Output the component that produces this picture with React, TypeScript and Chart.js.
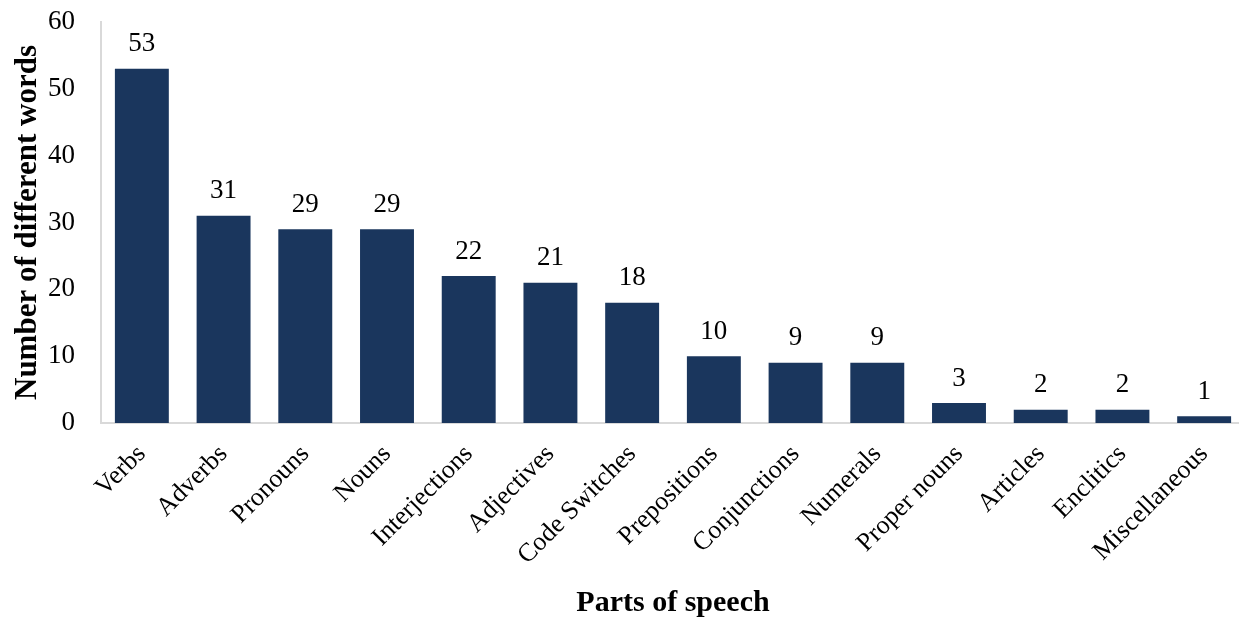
import React, { useEffect, useRef } from "react";
import { Chart, registerables } from "chart.js";
Chart.register(...registerables);

const categories = ["Verbs", "Adverbs", "Pronouns", "Nouns", "Interjections", "Adjectives", "Code Switches", "Prepositions", "Conjunctions", "Numerals", "Proper nouns", "Articles", "Enclitics", "Miscellaneous"];
const values = [53, 31, 29, 29, 22, 21, 18, 10, 9, 9, 3, 2, 2, 1];
const yTicks = [0, 10, 20, 30, 40, 50, 60];

const FONT = "'Liberation Serif', 'Times New Roman', serif";

const labelPlugin = {
  id: "barLabels",
  afterDatasetsDraw(chart: any) {
    const ctx = chart.ctx;
    const meta = chart.getDatasetMeta(0);
    ctx.save();
    ctx.font = `27px ${FONT}`;
    ctx.fillStyle = "#000";
    ctx.textAlign = "center";
    ctx.textBaseline = "bottom";
    meta.data.forEach((bar: any, i: number) => {
      ctx.fillText(String(values[i]), bar.x, bar.y - 11);
    });
    ctx.restore();
  },
};

export default function App() {
  const ref = useRef<HTMLCanvasElement>(null);
  useEffect(() => {
    const chart = new Chart(ref.current!, {
      type: "bar",
      data: {
        labels: categories,
        datasets: [{ data: values, backgroundColor: "#1a365d", borderWidth: 0, barPercentage: 0.66, categoryPercentage: 1 }],
      },
      plugins: [labelPlugin],
      options: {
        animation: false,
        responsive: false,
        layout: { padding: { top: 22, right: 5, left: 0, bottom: 0 } },
        plugins: { legend: { display: false }, tooltip: { enabled: false } },
        scales: {
          x: {
            grid: { display: false, drawTicks: false },
            border: { color: "#d9d9d9", width: 2 },
            ticks: { color: "#000", font: { family: FONT, size: 26 }, maxRotation: 45, minRotation: 45, padding: 16, autoSkip: false },
            title: { display: true, text: "Parts of speech", color: "#000", font: { family: FONT, size: 30, weight: "bold", lineHeight: 1 }, padding: { top: 0, bottom: 0 } },
            afterFit: (s: any) => { s.height = 195; s.paddingLeft = 0; s.paddingRight = 0; },
          },
          y: {
            min: 0,
            max: 60,
            afterBuildTicks: (s: any) => { s.ticks = yTicks.map((v) => ({ value: v })); },
            grid: { display: false, drawTicks: false },
            border: { color: "#d9d9d9", width: 2 },
            ticks: { color: "#000", font: { family: FONT, size: 27 }, padding: 26 },
            title: { display: true, text: "Number of different words", color: "#000", font: { family: FONT, size: 31, weight: "bold" }, padding: { top: 9, bottom: 0 } },
            afterFit: (s: any) => { s.width = 101; s.paddingTop = 0; s.paddingBottom = 0; },
          },
        },
      },
    } as any);
    return () => chart.destroy();
  }, []);
  return (
    <div style={{ position: "fixed", left: 0, top: 0, width: 1239, height: 618, overflow: "hidden", background: "#fff" }}>
      <canvas ref={ref} width={1250} height={618} style={{ display: "block" }} />
    </div>
  );
}
